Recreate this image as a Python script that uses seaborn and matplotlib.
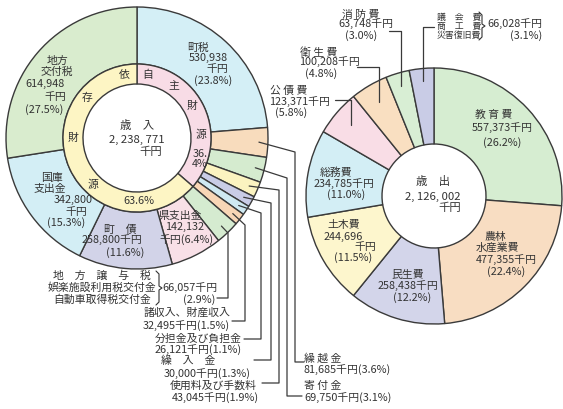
import numpy as np
import matplotlib.pyplot as plt
import seaborn as sns

# 歳入 (revenue), thousand yen, clockwise from 12 o'clock
rev_names = ['町税', '繰越金', '寄付金', '使用料及び手数料', '繰入金', '分担金及び負担金',
             '諸収入、財産収入', '地方譲与税\n娯楽施設利用税交付金\n自動車取得税交付金',
             '県支出金', '町債', '国庫\n支出金', '地方\n交付税']
rev_values = [530938, 81685, 69750, 43045, 30000, 26121, 32495, 66057,
              142132, 258800, 342800, 614948]
rev_pcts = [23.8, 3.6, 3.1, 1.9, 1.3, 1.1, 1.5, 2.9, 6.4, 11.6, 15.3, 27.5]
rev_own = [True, True, True, True, True, True, True, False, False, False, False, False]
rev_colors = ['#d4eff6', '#f8dcbd', '#d5ebcf', '#fbf3c0', '#c9cce6', '#cfe9f2',
              '#f8d6b6', '#d5ebd0', '#f8e0e7', '#d2d3e8', '#d3eef5', '#d9ecce']
ring_names = ['自主財源', '依存財源']
ring_colors = ['#f8dce6', '#fdf5c4']

# 歳出 (expenditure), thousand yen, clockwise from 12 o'clock
exp_names = ['教育費', '農林\n水産業費', '民生費', '土木費', '総務費', '公債費',
             '衛生費', '消防費', '議会費\n商工費\n災害復旧費']
exp_values = [557373, 477355, 258438, 244696, 234785, 123371, 100208, 63748, 66028]
exp_pcts = [26.2, 22.4, 12.2, 11.5, 11.0, 5.8, 4.8, 3.0, 3.1]
exp_colors = ['#d6edd1', '#f8ddc2', '#d3d5ea', '#fdf6cd', '#d3eef5', '#f9dde6',
              '#f9dfc1', '#d8eed4', '#c9cce6']

sns.set_style("white")
plt.rcParams['font.family'] = ['Noto Sans CJK JP', 'DejaVu Sans']

W, H = 563, 409
fig = plt.figure(figsize=(W / 100, H / 100), dpi=100)
ax = fig.add_axes([0, 0, 1, 1])

LC, LR = (137, 138), 131
RC, RR = (434, 196), 128
EDGE = '#3a3a3a'
TXT = '#333333'
FS = 7.8


def pie(values, colors, center, radius, width):
    # y axis is flipped below, so this runs clockwise from the top
    ax.pie(values, colors=colors, center=center, radius=radius, startangle=-90,
           counterclock=True, frame=True,
           wedgeprops=dict(width=width, edgecolor=EDGE, linewidth=1.0))


def polar(c, r, deg):
    a = np.deg2rad(deg)
    return c[0] + r * np.sin(a), c[1] - r * np.cos(a)


def mids(values):
    v = np.asarray(values, float)
    cum = np.cumsum(v) - v / 2
    return 360 * cum / v.sum()


def txt(x, y, s, ha='center', fs=FS, **kw):
    ax.text(x, y, s, ha=ha, va='center', fontsize=fs, color=TXT, **kw)


def fill(tpl, name, v, p):
    n = name.split('\n')
    s = [' '.join(q) for q in n]
    w = ['\u3000'.join(q) for q in n]
    return tpl.format(n=n, s=s, w=w, v=f"{v:,}", p=f"({p}%)")


def brace(x, y1, y2):
    ym = (y1 + y2) / 2
    ax.plot([x - 3, x, x, x + 3, x, x, x - 3],
            [y1, y1 + 3, ym - 2, ym, ym + 2, y2 - 3, y2], color=TXT, lw=0.8)


rev_total = sum(rev_values)
exp_total = sum(exp_values)
own = sum(v for v, o in zip(rev_values, rev_own) if o)
ring_values = [own, rev_total - own]

pie(rev_values, rev_colors, LC, LR, LR - 74)
pie(ring_values, ring_colors, LC, 74, 20)
pie(exp_values, exp_colors, RC, RR, RR - 52)

# slice labels: (template, x, y[, ha[, fontsize]])
rev_labels = {
    0: [("{n[0]}", 198, 48), ("{v}", 208, 58), ("千円", 217, 69), ("{p}", 213, 81)],
    11: [("{n[0]}", 58, 61), ("{n[1]}", 57, 72), ("{v}", 45, 84), ("千円", 55, 97), ("{p}", 44, 110)],
    10: [("{n[0]}", 52, 178), ("{n[1]}", 50, 189), ("{v}", 73, 200), ("千円", 76, 212), ("{p}", 66, 223)],
    9: [("{w[0]}", 120, 230), ("{v}千円", 112, 241), ("{p}", 125, 253)],
    8: [("{n[0]}", 180, 216), ("{v}", 185, 227), ("千円{p}", 187, 240)],
    7: [("{w[0]}", 102, 276), ("{n[1]}", 102, 288), ("{n[2]}", 102, 300),
        ("{v}千円", 190, 288), ("{p}", 215, 300, 'right')],
    6: [("{n[0]}", 187, 313), ("{v}千円{p}", 186, 326)],
    5: [("{n[0]}", 198, 339), ("{v}千円{p}", 198, 350)],
    4: [("{w[0]}", 188, 361), ("{v}千円{p}", 207, 374)],
    3: [("{n[0]}", 213, 386), ("{v}千円{p}", 215, 398)],
    1: [("{s[0]}", 304, 358, 'left'), ("{v}千円{p}", 304, 370, 'left')],
    2: [("{s[0]}", 304, 386, 'left'), ("{v}千円{p}", 304, 398, 'left')],
}
exp_labels = {
    0: [("{s[0]}", 494, 115), ("{v}千円", 502, 128), ("{p}", 502, 143)],
    1: [("{n[0]}", 495, 237), ("{n[1]}", 497, 248), ("{v}千円", 506, 260), ("{p}", 506, 272)],
    2: [("{n[0]}", 408, 275), ("{v}千円", 408, 287), ("{p}", 412, 298)],
    3: [("{n[0]}", 344, 225), ("{v}", 343, 237), ("千円", 365, 247), ("{p}", 353, 258)],
    4: [("{n[0]}", 336, 173), ("{v}千円", 344, 184), ("{p}", 346, 195)],
    5: [("{s[0]}", 270, 91, 'left'), ("{v}千円", 269, 102, 'left'), ("{p}", 275, 113, 'left')],
    6: [("{s[0]}", 300, 53, 'left'), ("{v}千円", 299, 63, 'left'), ("{p}", 305, 74, 'left')],
    7: [("{s[0]}", 342, 15, 'left'), ("{v}千円", 338, 25, 'left'), ("{p}", 345, 36, 'left')],
    8: [("{w[0]}", 437, 17, 'left', 6.4), ("{w[1]}", 437, 26, 'left', 6.4),
        ("{n[2]}", 437, 35, 'left', 6.4),
        ("{v}千円", 487, 25, 'left'), ("{p}", 510, 36, 'left')],
}

for labels, names, vals, pcts in [(rev_labels, rev_names, rev_values, rev_pcts),
                                  (exp_labels, exp_names, exp_values, exp_pcts)]:
    for i, lines in labels.items():
        for item in lines:
            tpl, x, y = item[:3]
            ha = item[3] if len(item) > 3 else 'center'
            fs = item[4] if len(item) > 4 else FS
            txt(x, y, fill(tpl, names[i], vals[i], pcts[i]), ha=ha, fs=fs)

brace(159, 271, 305)
brace(482, 12, 40)

# leader lines, revenue: slice -> elbow (vx, ey) -> down to hy -> across to hx
lead_left = {1: (295, 152, 362, 304), 2: (287, 178, 396, 302), 3: (279, 190, 383, 262),
             4: (271, 203, 360, 254), 5: (261, 213, 339, 244), 6: (245, 225, 321, 232),
             7: (228, 233, 298, 217)}
rm = mids(rev_values)
for i, (vx, ey, hy, hx) in lead_left.items():
    sx, sy = polar(LC, 122, rm[i])
    ax.plot([sx, vx, vx, hx], [sy, ey, hy, hy], color=EDGE, lw=0.9)

# leader lines, expenditure: label end (hx, hy) -> over to slice x -> down into slice
lead_right = {5: (335, 100, 0.85), 6: (357, 67, 0.85), 7: (389, 31, 0.9), 8: (434, 27, 0.9)}
em = mids(exp_values)
for i, (hx, hy, f) in lead_right.items():
    ex, ey = polar(RC, RR * f, em[i])
    ax.plot([hx, ex, ex], [hy, hy, ey], color=EDGE, lw=0.9)

# ring text
own_pct = f"{100 * own / rev_total:.1f}%"
dep_pct = f"{100 * (rev_total - own) / rev_total:.1f}%"
for ch, ang in zip(ring_names[0], [10, 35, 60, 87]):
    txt(*polar(LC, 64, ang), ch)
for ch, ang in zip(ring_names[1], [349, 309, 270, 223]):
    txt(*polar(LC, 64, ang), ch)
txt(200, 159, own_pct[:3] + '\n' + own_pct[3:], linespacing=1.0)
txt(*polar(LC, 63, 178), dep_pct)

# centre text
txt(137, 125, '歳\u3000入', fs=8.2)
txt(137, 140, f"{rev_total:,}".replace(',', ', '), fs=8.2)
txt(162, 152, '千円', ha='right', fs=8.2)
txt(433, 182, '歳\u3000出', fs=8.2)
txt(433, 197, f"{exp_total:,}".replace(',', ', '), fs=8.2)
txt(461, 208, '千円', ha='right', fs=8.2)

ax.set_xlim(0, W)
ax.set_ylim(H, 0)
ax.set_aspect('equal')
ax.axis('off')
fig.savefig('out.png', dpi=100, facecolor='white')
